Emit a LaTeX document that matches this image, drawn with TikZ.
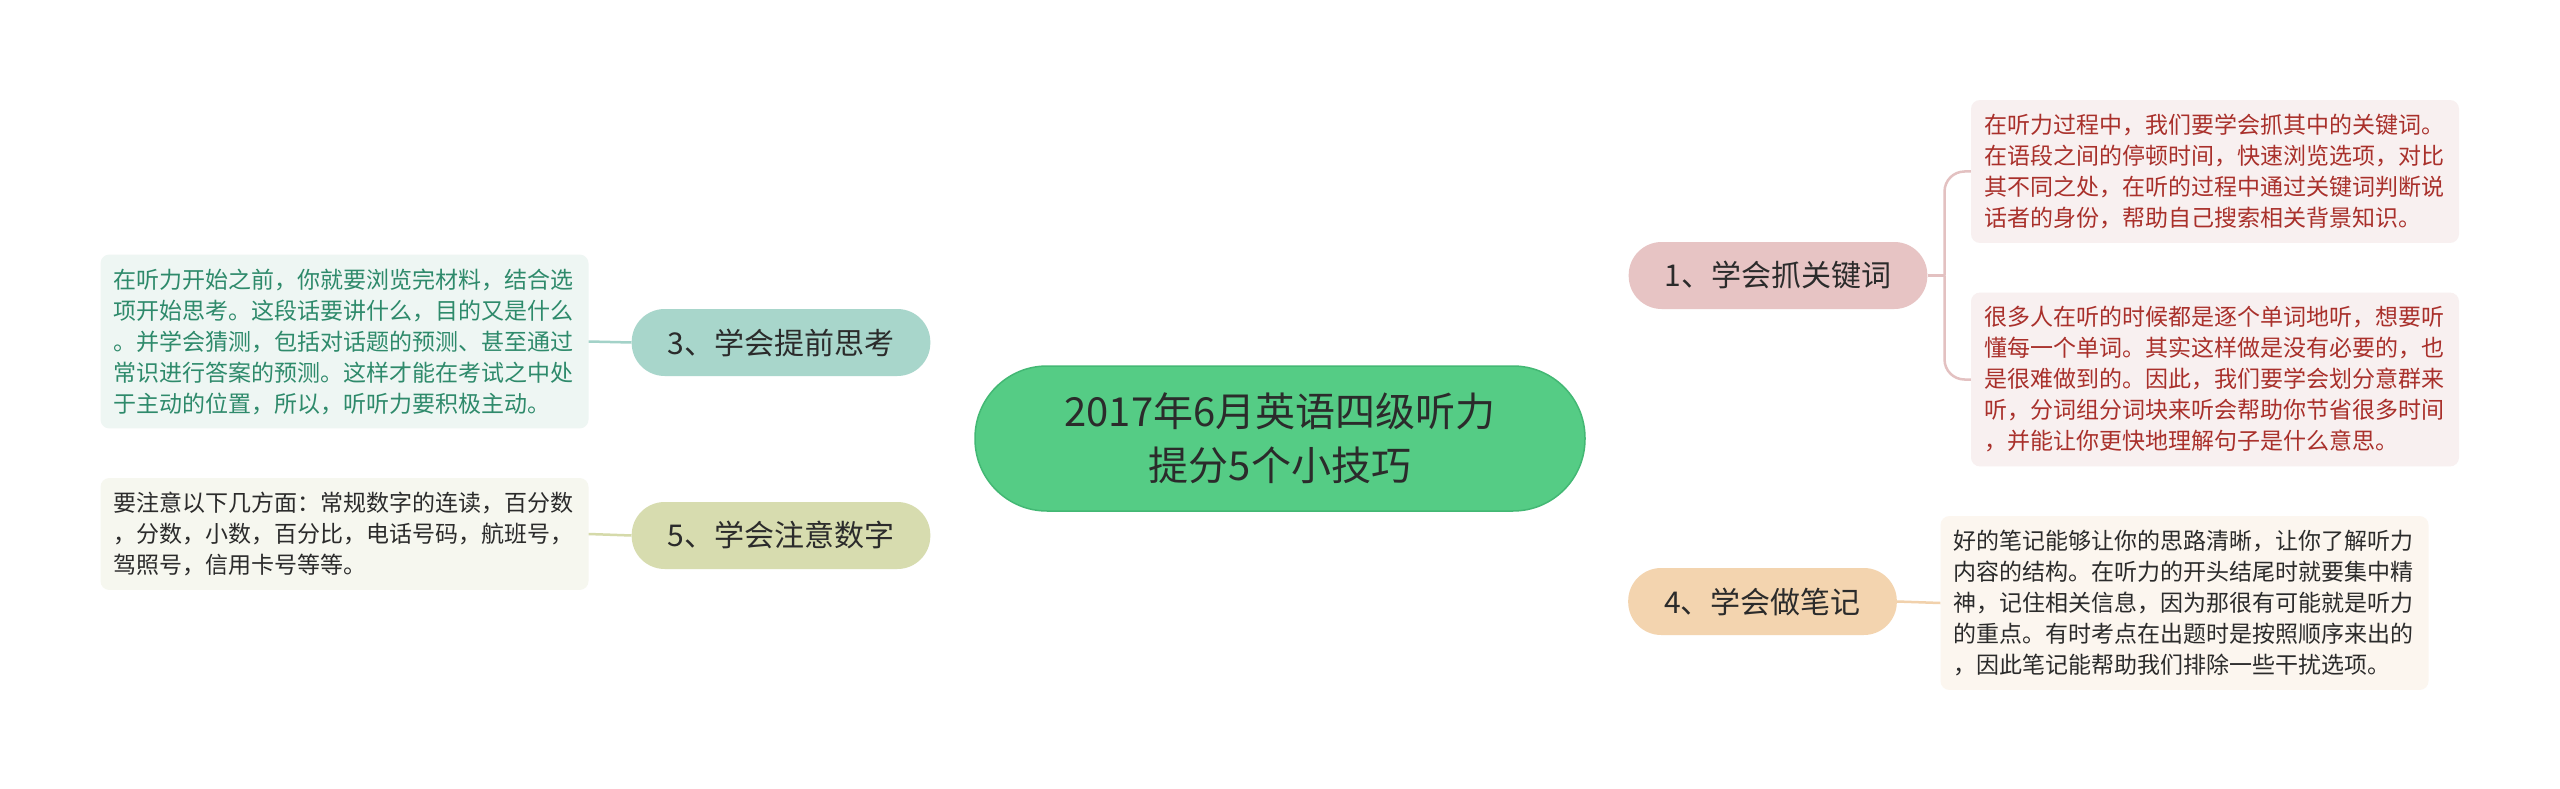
\documentclass[tikz,border=0pt]{standalone}
\usepackage{fontspec}
\setmainfont{Noto Sans CJK SC}
\usepackage{xcolor}
\usetikzlibrary{backgrounds, calc}

\definecolor{rootfill}{HTML}{55CC85}
\definecolor{rootline}{HTML}{43B874}
\definecolor{textdark}{HTML}{2B2B2B}
\definecolor{pinkfill}{HTML}{E7C4C4}
\definecolor{pinkline}{HTML}{E3C1C1}
\definecolor{pinknote}{HTML}{F8F0F0}
\definecolor{pinktext}{HTML}{A9302B}
\definecolor{tealfill}{HTML}{A8D6CB}
\definecolor{tealline}{HTML}{A3D2C8}
\definecolor{tealnote}{HTML}{EEF6F3}
\definecolor{tealtext}{HTML}{2E8A6B}
\definecolor{olivefill}{HTML}{D7DCAF}
\definecolor{oliveline}{HTML}{D5DAAA}
\definecolor{olivenote}{HTML}{F6F7EF}
\definecolor{peachfill}{HTML}{F3D4AF}
\definecolor{peachline}{HTML}{F1D1AC}
\definecolor{peachnote}{HTML}{FCF6EF}

\begin{document}
\begin{tikzpicture}[x=1pt, y=-1pt,
		root/.style={draw=rootline, line width=1.5pt, fill=rootfill, rounded corners=72pt,
			minimum width=610pt, minimum height=145pt, align=center, text=textdark,
			font=\fontsize{40}{54}\selectfont},
		topic/.style={fill=#1, rounded corners=33pt, minimum height=67pt, inner xsep=36pt,
			text=textdark, font=\fontsize{30}{36}\selectfont},
		note/.style={fill=#1, rounded corners=9pt, text width=462pt, inner xsep=13pt,
			inner ysep=14pt, align=left, font=\fontsize{23}{31}\selectfont},
		link/.style={draw=#1, line width=3pt},
		twig/.style={draw=#1, line width=2.5pt, rounded corners=20pt}]
			\useasboundingbox [fill=white] (0,0) rectangle (2560,789);
			
			%% Centro
			\node [root] (root) at (1280,438.5) {2017年6月英语四级听力\\提分5个小技巧};
			
			%% Ramas
			\node [topic=pinkfill] (b1) at (1778,275.5) {1、学会抓关键词};
			\node [topic=tealfill] (b3) at (781,342.5) {3、学会提前思考};
			\node [topic=olivefill] (b5) at (781,535.5) {5、学会注意数字};
			\node [topic=peachfill] (b4) at (1762.5,601.5) {4、学会做笔记};
			
			%% Notas
			\node [note=pinknote, text=pinktext] (t1a) at (2215,171.5)
			{在听力过程中，我们要学会抓其中的关键词。\\在语段之间的停顿时间，快速浏览选项，对比\\其不同之处，在听的过程中通过关键词判断说\\话者的身份，帮助自己搜索相关背景知识。};
			\node [note=pinknote, text=pinktext] (t1b) at (2215,379.5)
			{很多人在听的时候都是逐个单词地听，想要听\\懂每一个单词。其实这样做是没有必要的，也\\是很难做到的。因此，我们要学会划分意群来\\听，分词组分词块来听会帮助你节省很多时间\\，并能让你更快地理解句子是什么意思。};
			\node [note=tealnote, text=tealtext] (t3) at (344.5,341.5)
			{在听力开始之前，你就要浏览完材料，结合选\\项开始思考。这段话要讲什么，目的又是什么\\。并学会猜测，包括对话题的预测、甚至通过\\常识进行答案的预测。这样才能在考试之中处\\于主动的位置，所以，听听力要积极主动。};
			\node [note=olivenote, text=textdark] (t5) at (344.5,534)
			{要注意以下几方面：常规数字的连读，百分数\\，分数，小数，百分比，电话号码，航班号，\\驾照号，信用卡号等等。};
			\node [note=peachnote, text=textdark] (t4) at (2184.5,603)
			{好的笔记能够让你的思路清晰，让你了解听力\\内容的结构。在听力的开头结尾时就要集中精\\神，记住相关信息，因为那很有可能就是听力\\的重点。有时考点在出题时是按照顺序来出的\\，因此笔记能帮助我们排除一些干扰选项。};
			
			%% Conectores
			\begin{scope}[on background layer]
				\draw [link=pinkline] (root.center) .. controls (root.center |- b1.west) .. (b1.west);
				\draw [link=peachline] (root.center) .. controls (root.center |- b4.west) .. (b4.west);
				\draw [link=tealline] (root.center) .. controls (root.center |- b3.east) .. (b3.east);
				\draw [link=oliveline] (root.center) .. controls (root.center |- b5.east) .. (b5.east);
			\end{scope}
			
			\coordinate (j1) at ($(b1.east)+(17,0)$);
			\draw [twig=pinkline] (b1.east) -- (j1);
			\draw [twig=pinkline] (j1) |- (t1a.west);
			\draw [twig=pinkline] (j1) |- (t1b.west);
			\draw [twig=tealline] (b3.west) -- (t3.east);
			\draw [twig=oliveline] (b5.west) -- (t5.east);
			\draw [twig=peachline] (b4.east) -- (t4.west);
		\end{tikzpicture}
\end{document}
